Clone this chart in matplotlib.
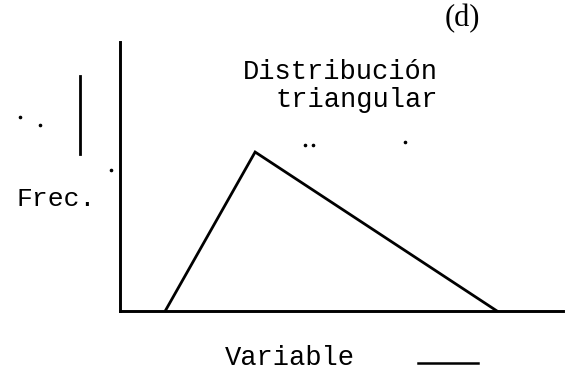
import matplotlib
matplotlib.use("Agg")
import matplotlib.pyplot as plt

# triangular distribution: min, mode, max (x) and frequency (y)
tri_x = [10.2, 30.5, 85.1]
tri_y = [0, 59.1, 0]

title_label = "(d)"
dist_lines = ["Distribución", "triangular"]
y_label = "Frec."
x_label = "Variable"

# scan specks in the original (figure fractions)
speck_x = [0.035, 0.070, 0.194, 0.533, 0.547, 0.708]
speck_y = [0.687, 0.666, 0.545, 0.612, 0.612, 0.620]

fig = plt.figure(figsize=(5.72, 3.74), dpi=100)
ax = fig.add_axes([0.2098, 0.1684, 0.7745, 0.7193])

ax.plot(tri_x, tri_y, color="black", linewidth=2.0, solid_joinstyle="miter")
ax.set_xlim(0, 100)
ax.set_ylim(0, 100)
ax.set_xticks([])
ax.set_yticks([])
for side in ["top", "right"]:
    ax.spines[side].set_visible(False)
for side in ["left", "bottom"]:
    ax.spines[side].set_linewidth(2.1)

mono = "Liberation Mono"
fig.text(0.808, 0.950, title_label, fontsize=22, family="Liberation Serif",
         ha="center", va="center")
fig.text(0.765, 0.807, dist_lines[0], fontsize=19.5, family=mono,
         ha="right", va="center")
fig.text(0.765, 0.733, dist_lines[1], fontsize=19.5, family=mono,
         ha="right", va="center")
fig.text(0.028, 0.468, y_label, fontsize=19, family=mono, ha="left", va="center")
fig.text(0.507, 0.043, x_label, fontsize=19.5, family=mono, ha="center", va="center")

# short dash next to "Variable" and stray mark left of the axis
fig.add_artist(plt.Line2D([0.731, 0.836], [0.029, 0.029], color="black", lw=1.8))
fig.add_artist(plt.Line2D([0.140, 0.140], [0.797, 0.588], color="black", lw=2.0))
fig.add_artist(plt.Line2D(speck_x, speck_y, color="black", ls="none",
                          marker="o", markersize=1.6))

fig.savefig("out.png", dpi=100)
